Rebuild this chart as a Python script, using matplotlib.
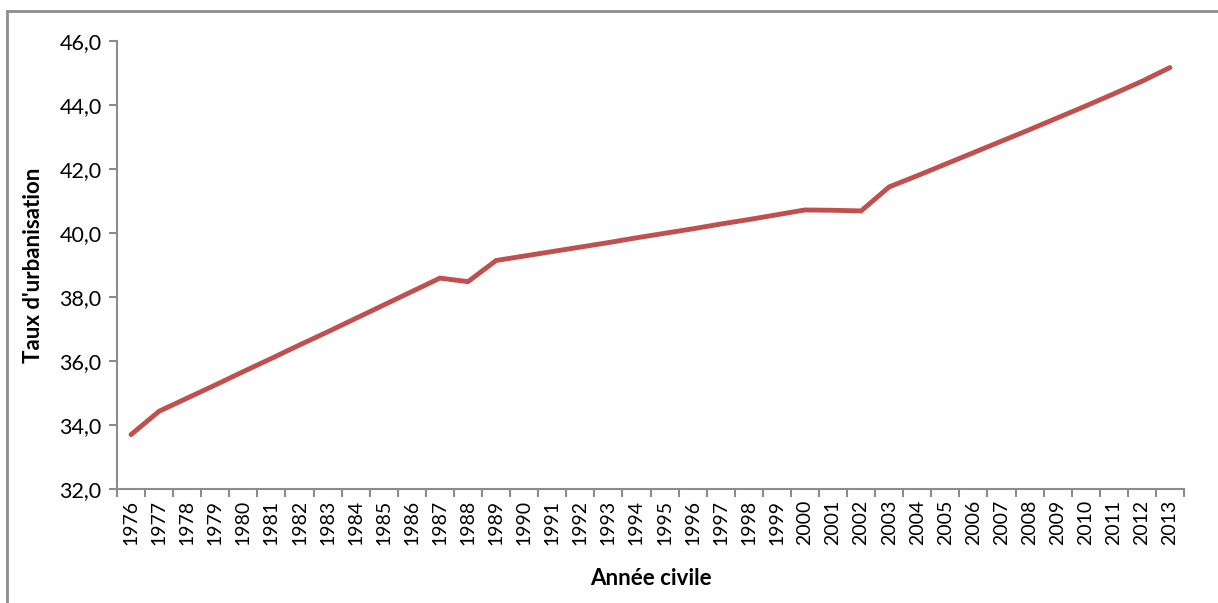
import numpy as np
import matplotlib.pyplot as plt
from matplotlib.patches import Rectangle

years = list(range(1976, 2014))
taux = [33.70, 34.43, 34.84, 35.25, 35.67, 36.08, 36.50, 36.91, 37.33, 37.75,
        38.17, 38.59, 38.48, 39.14, 39.28, 39.42, 39.56, 39.70, 39.85, 39.99,
        40.13, 40.28, 40.42, 40.57, 40.72, 40.71, 40.69, 41.44, 41.79, 42.15,
        42.51, 42.87, 43.23, 43.60, 43.97, 44.35, 44.74, 45.17]
y_ticks = [32, 34, 36, 38, 40, 42, 44, 46]

plt.rcParams['font.family'] = ['Lato', 'DejaVu Sans']
grey = '#8c8c8c'

fig = plt.figure(figsize=(12.18, 6.03), dpi=100)
ax = fig.add_axes([117/1218, 1 - 489/603, (1184 - 117)/1218, (489 - 41)/603])

x = np.arange(len(years))
ax.plot(x, taux, color='#C0504D', lw=3.5, solid_capstyle='round', solid_joinstyle='miter')

ax.set_xlim(-0.5, len(years) - 0.5)
ax.set_ylim(32, 46)
ax.set_yticks(y_ticks)
ax.set_yticklabels([f"{v:.1f}".replace('.', ',') for v in y_ticks], fontsize=15.5)

# category boundaries as ticks, labels at centres
ax.set_xticks(np.arange(len(years) + 1) - 0.5)
ax.set_xticklabels([])
ax.set_xticks(x, minor=True)
ax.set_xticklabels([str(y) for y in years], minor=True, rotation=90, fontsize=14)
ax.tick_params(axis='x', which='minor', length=0, pad=8)
ax.tick_params(axis='x', which='major', length=6, color=grey, width=1.5)
ax.tick_params(axis='y', length=6, color=grey, width=1.5, pad=5)

for s in ['top', 'right']:
    ax.spines[s].set_visible(False)
for s in ['left', 'bottom']:
    ax.spines[s].set_color(grey)
    ax.spines[s].set_linewidth(1.5)

ax.set_ylabel("Taux d'urbanisation", fontsize=16, fontweight='bold', labelpad=11)
ax.set_xlabel("Année civile", fontsize=16, fontweight='bold', labelpad=16)

# outer chart frame (cut at right and bottom)
fig.patches.append(Rectangle((7/1218, -0.05), 1.1, 1 - 11/603 + 0.05,
                             transform=fig.transFigure, fill=False,
                             edgecolor=grey, lw=2, clip_on=False))

fig.savefig('out.png', dpi=100)
